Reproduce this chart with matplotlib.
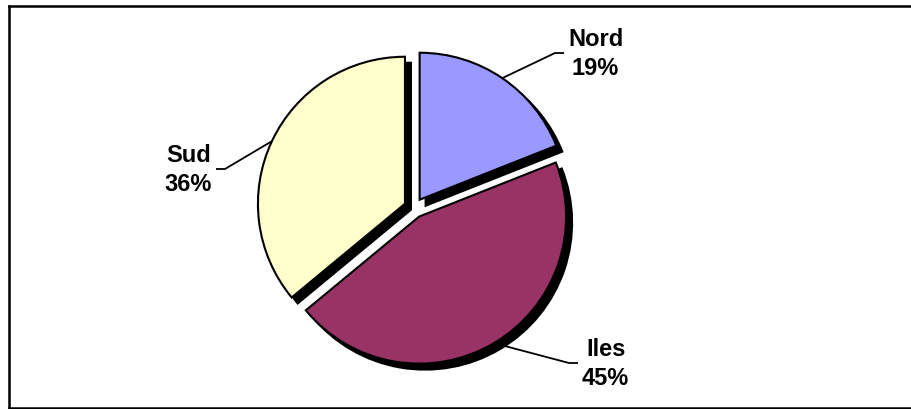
import numpy as np
import matplotlib
matplotlib.use("Agg")
import matplotlib.pyplot as plt
from matplotlib.patches import Wedge

# données
regions = ['Nord', 'Iles', 'Sud']
parts = [19, 45, 36]
couleurs = ['#9999FF', '#993366', '#FFFFCC']

W, H = 912, 410
fig = plt.figure(figsize=(W / 100, H / 100), dpi=100)
ax = fig.add_axes([0, 0, 1, 1])

centre = (414, H - 209)
rayon = 147
ecart = 10  # en pixels (pie ajoute explode tel quel au centre)
ombre = (6, -6)

wedges, _ = ax.pie(parts, colors=couleurs, startangle=90, counterclock=False,
                   explode=[ecart] * len(parts), radius=rayon, center=centre,
                   wedgeprops=dict(edgecolor='black', linewidth=1.5))

# ombres noires décalées
for w in wedges:
    w.set_zorder(3)
    cx, cy = w.center
    sh = Wedge((cx + ombre[0], cy + ombre[1]), w.r, w.theta1, w.theta2,
               facecolor='black', edgecolor='black', linewidth=1.5, zorder=2)
    ax.add_patch(sh)

# étiquettes (position du texte, côté)
pos_labels = {'Nord': (568, H - 54, 'left'),
              'Iles': (582, H - 364, 'left'),
              'Sud': (212, H - 170, 'right')}

for w, nom, p in zip(wedges, regions, parts):
    tx, ty, side = pos_labels[nom]
    ang = np.deg2rad((w.theta1 + w.theta2) / 2)
    x0 = w.center[0] + w.r * np.cos(ang)
    y0 = w.center[1] + w.r * np.sin(ang)
    s = 1 if side == 'left' else -1
    xe = tx - s * 13
    xf = tx - s * 4
    ax.plot([x0, xe, xf], [y0, ty, ty], color='black', lw=1.3, zorder=4,
            solid_capstyle='butt')
    ax.text(tx, ty, f"{nom}\n{p}%", ha=side, va='center', multialignment='center',
            fontsize=17, fontweight='bold', family='Liberation Sans',
            linespacing=1.35, zorder=5)

# cadre
ax.plot([9, 9], [0, H - 7], color='black', lw=1.8, zorder=6)
ax.plot([9, W + 5], [H - 7, H - 7], color='black', lw=1.8, zorder=6)
ax.plot([9, W + 5], [1, 1], color='black', lw=1.8, zorder=6)

ax.set_xlim(0, W)
ax.set_ylim(0, H)
ax.set_aspect('auto')
ax.set_axis_off()

fig.savefig('out.png', dpi=100, facecolor='white')
